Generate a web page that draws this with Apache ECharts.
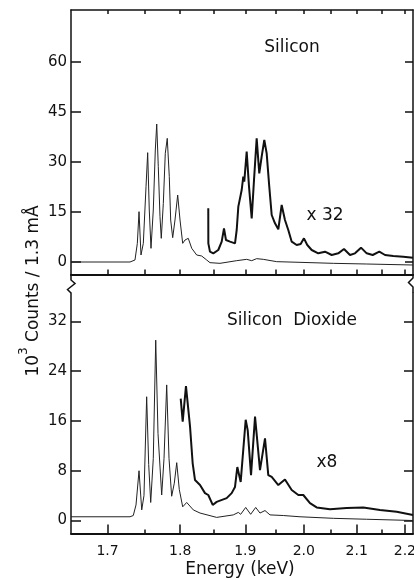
<!DOCTYPE html>
<html>
<head>
<meta charset="utf-8">
<script src="https://cdn.jsdelivr.net/npm/echarts@6/dist/echarts.min.js"></script>
<style>html,body{margin:0;padding:0;background:#fff;}#c{width:414px;height:580px;}</style>
</head>
<body>
<div id="c"></div>
<script>
// ---- data (energy in keV, counts in 10^3 / 1.3 mA) ----
const HC = 12.398; // keV*Angstrom; the energy axis is linear in wavelength
const xMajorEnergies = [1.7, 1.8, 1.9, 2.0, 2.1, 2.2];
const xMinorEnergies = [1.75, 1.85, 1.95, 2.05, 2.15];
const siYTicks = [0, 15, 30, 45, 60];
const sio2YTicks = [0, 8, 16, 24, 32];

const siEnergy = [1.6538, 1.7297, 1.7364, 1.7396, 1.7419, 1.7446, 1.7478, 1.7515, 1.7538, 1.7560, 1.7584, 1.7616, 1.7644, 1.7664, 1.7686, 1.7710, 1.7728, 1.7757, 1.7785, 1.7813, 1.7842, 1.7862, 1.7891, 1.7924, 1.7963, 1.7997, 1.8036, 1.8070, 1.8118, 1.8169, 1.8243, 1.8318, 1.8394, 1.8444, 1.8598, 1.8862, 1.9023, 1.9105, 1.9187, 1.9297, 1.9524, 1.9932, 2.0545, 2.1199, 2.2178];
const siCounts = [0, 0, 0.6, 5.6, 15.1, 2.1, 5.6, 22.6, 32.8, 15.6, 4.1, 15.6, 33.6, 41.4, 28.6, 13.6, 7.1, 17.6, 32.6, 37.1, 25.6, 12.6, 7.3, 12.6, 20.1, 12.6, 5.6, 6.6, 7.1, 4.1, 2.1, 1.8, 0.6, -0.2, -0.4, 0.4, 0.8, 0.4, 1.0, 0.8, 0.1, -0.1, -0.4, -0.6, -0.9];

const siX32Energy = [1.8418, 1.8419, 1.8444, 1.8495, 1.8572, 1.8625, 1.8661, 1.8692, 1.8713, 1.8755, 1.8835, 1.8862, 1.8888, 1.8942, 1.8968, 1.8984, 1.9023, 1.9061, 1.9105, 1.9143, 1.9187, 1.9230, 1.9270, 1.9314, 1.9354, 1.9398, 1.9439, 1.9495, 1.9552, 1.9610, 1.9667, 1.9725, 1.9785, 1.9873, 1.9944, 2.0003, 2.0063, 2.0143, 2.0264, 2.0389, 2.0515, 2.0640, 2.0750, 2.0867, 2.0965, 2.1085, 2.1199, 2.1321, 2.1457, 2.1576, 2.1750, 2.1965, 2.2178];
const siX32Counts = [16.1, 5.6, 3.1, 2.6, 3.6, 6.1, 10.1, 6.6, 7.1, 6.1, 5.6, 9.6, 16.6, 21.6, 25.6, 24.1, 33.1, 22.6, 13.1, 24.6, 37.1, 26.6, 31.6, 36.6, 32.6, 22.6, 14.1, 11.6, 9.8, 17.1, 12.6, 9.6, 6.1, 5.1, 5.4, 7.1, 5.1, 3.6, 2.6, 3.1, 2.1, 2.6, 3.9, 2.1, 2.6, 4.3, 2.6, 2.1, 3.1, 2.1, 1.8, 1.6, 1.3];

const sio2Energy = [1.6538, 1.7297, 1.7341, 1.7378, 1.7419, 1.7456, 1.7487, 1.7524, 1.7552, 1.7580, 1.7616, 1.7650, 1.7682, 1.7734, 1.7767, 1.7805, 1.7838, 1.7876, 1.7914, 1.7949, 1.7986, 1.8036, 1.8095, 1.8193, 1.8293, 1.8547, 1.8808, 1.8888, 1.8926, 1.9007, 1.9088, 1.9171, 1.9242, 1.9326, 1.9410, 1.9638, 1.9932, 2.0545, 2.1199, 2.2178];
const sio2Counts = [0.6, 0.6, 0.8, 2.5, 8.0, 1.7, 4.0, 19.9, 9.0, 2.9, 10.0, 29.0, 14.0, 4.1, 10.0, 21.8, 10.0, 3.9, 6.0, 9.3, 5.0, 2.2, 2.9, 1.7, 1.2, 0.5, 0.9, 1.3, 1.0, 2.1, 1.0, 2.1, 1.2, 1.6, 0.9, 0.8, 0.6, 0.35, 0.2, 0.0];

const sio2X8Energy = [1.8007, 1.8036, 1.8084, 1.8144, 1.8183, 1.8218, 1.8243, 1.8293, 1.8368, 1.8418, 1.8486, 1.8547, 1.8598, 1.8703, 1.8782, 1.8835, 1.8872, 1.8926, 1.9007, 1.9040, 1.9094, 1.9160, 1.9242, 1.9326, 1.9381, 1.9439, 1.9552, 1.9667, 1.9785, 1.9902, 1.9991, 2.0112, 2.0234, 2.0482, 2.0802, 2.1131, 2.1471, 2.1823, 2.2178];
const sio2X8Counts = [19.6, 15.9, 21.6, 15.1, 9.2, 6.5, 6.8, 5.7, 4.4, 4.1, 2.5, 3.0, 3.2, 3.6, 4.4, 5.4, 8.6, 6.2, 16.2, 14.5, 7.3, 16.7, 8.1, 13.2, 7.3, 7.0, 5.7, 6.6, 4.9, 4.1, 4.1, 2.8, 2.1, 1.8, 2.0, 2.1, 1.7, 1.4, 0.9];

const E_MIN = 1.6538, E_MAX = 2.2178;

// ---- build ----
const FONT = 'DejaVu Sans';
const INK = '#111';
const lam = e => HC / e;
const pts = (es, cs) => es.map((e, i) => [lam(e), cs[i]]);
const majorL = xMajorEnergies.map(lam);
const minorL = xMinorEnergies.map(lam);
const allL = majorL.concat(minorL);

function xAx(grid, pos, opts) {
  return Object.assign({
    type: 'value', gridIndex: grid, position: pos, inverse: true,
    min: lam(E_MAX), max: lam(E_MIN),
    splitLine: { show: false },
    axisLine: { show: true, onZero: false, lineStyle: { color: INK, width: 1.5 } },
    axisTick: { show: false },
    axisLabel: { show: false }
  }, opts);
}
function yAx(grid, pos, min, max, ticks, showLabels, tickLen) {
  return {
    type: 'value', gridIndex: grid, position: pos, min: min, max: max,
    splitLine: { show: false },
    axisLine: { show: true, onZero: false, lineStyle: { color: INK, width: 1.5 } },
    axisTick: { show: true, inside: true, length: tickLen, customValues: ticks, lineStyle: { color: INK, width: 1.5 } },
    axisLabel: { show: showLabels, customValues: ticks, margin: 4, color: INK, fontFamily: FONT, fontSize: 15 }
  };
}

const chart = echarts.init(document.getElementById('c'), null, { renderer: 'canvas' });
chart.setOption({
  animation: false,
  backgroundColor: '#fff',
  grid: [
    { left: 71, right: 1, top: 10, height: 264.5, outerBoundsMode: 'none', containLabel: false },
    { left: 71, right: 1, top: 293, height: 240.5, outerBoundsMode: 'none', containLabel: false }
  ],
  xAxis: [
    xAx(0, 'bottom', { axisLine: { show: true, onZero: false, lineStyle: { color: INK, width: 2 } },
      axisTick: { show: true, inside: true, length: 5, customValues: allL, lineStyle: { color: INK, width: 1.5 } } }),
    xAx(0, 'top', { axisTick: { show: true, inside: true, length: 4, customValues: allL, lineStyle: { color: INK, width: 1.5 } } }),
    xAx(1, 'bottom', { axisLine: { show: true, onZero: false, lineStyle: { color: INK, width: 2 } },
      axisTick: { show: true, inside: true, length: 9, customValues: majorL, lineStyle: { color: INK, width: 1.5 } },
      axisLabel: { show: true, customValues: majorL, margin: 11, color: INK, fontFamily: FONT, fontSize: 14,
        hideOverlap: false, formatter: v => (HC / v).toFixed(1) } }),
    xAx(1, 'bottom', { axisLine: { show: false, onZero: false },
      axisTick: { show: true, inside: true, length: 4, customValues: minorL, lineStyle: { color: INK, width: 1.5 } } })
  ],
  yAxis: [
    yAx(0, 'left', -3.75, 75.6, siYTicks, true, 10),
    yAx(0, 'right', -3.75, 75.6, siYTicks, false, 8),
    yAx(1, 'left', -2.09, 36.58, sio2YTicks, true, 10),
    yAx(1, 'right', -2.09, 36.58, sio2YTicks, false, 9)
  ],
  series: [
    { type: 'line', xAxisIndex: 0, yAxisIndex: 0, data: pts(siEnergy, siCounts), showSymbol: false,
      lineStyle: { color: '#222', width: 1 } },
    { type: 'line', xAxisIndex: 0, yAxisIndex: 0, data: pts(siX32Energy, siX32Counts), showSymbol: false,
      lineStyle: { color: INK, width: 2 } },
    { type: 'line', xAxisIndex: 2, yAxisIndex: 2, data: pts(sio2Energy, sio2Counts), showSymbol: false,
      lineStyle: { color: '#222', width: 1 } },
    { type: 'line', xAxisIndex: 2, yAxisIndex: 2, data: pts(sio2X8Energy, sio2X8Counts), showSymbol: false,
      lineStyle: { color: INK, width: 2 } }
  ],
  graphic: [
    { type: 'polyline', shape: { points: [[71, 274], [71, 280], [75, 283.5], [67.5, 289.5], [71, 293]] },
      style: { stroke: INK, lineWidth: 1.5, fill: null } },
    { type: 'polyline', shape: { points: [[413, 274], [413, 278], [408.5, 282.5], [413, 287], [413, 293]] },
      style: { stroke: INK, lineWidth: 1.5, fill: null } },
    { type: 'text', x: 292, y: 48, style: { text: 'Silicon', fill: INK, font: '17px "DejaVu Sans"',
      align: 'center', verticalAlign: 'middle', textAlign: 'center', textVerticalAlign: 'middle' } },
    { type: 'text', x: 325, y: 216, style: { text: 'x 32', fill: INK, font: '17px "DejaVu Sans"',
      align: 'center', verticalAlign: 'middle', textAlign: 'center', textVerticalAlign: 'middle' } },
    { type: 'text', x: 292, y: 321, style: { text: 'Silicon  Dioxide', fill: INK, font: '17px "DejaVu Sans"',
      align: 'center', verticalAlign: 'middle', textAlign: 'center', textVerticalAlign: 'middle' } },
    { type: 'text', x: 327, y: 463, style: { text: 'x8', fill: INK, font: '17px "DejaVu Sans"',
      align: 'center', verticalAlign: 'middle', textAlign: 'center', textVerticalAlign: 'middle' } },
    { type: 'text', x: 240, y: 570, style: { text: 'Energy (keV)', fill: INK, font: '17px "DejaVu Sans"',
      align: 'center', verticalAlign: 'middle', textAlign: 'center', textVerticalAlign: 'middle' } },
    { type: 'text', x: 34, y: 291, rotation: Math.PI / 2,
      style: { text: '{n|10}{s|3}{n| Counts / 1.3 mÅ}', fill: INK,
        align: 'center', verticalAlign: 'middle', textAlign: 'center', textVerticalAlign: 'middle',
        rich: {
          n: { fontSize: 17, fontFamily: FONT, lineHeight: 32, verticalAlign: 'middle', fill: INK },
          s: { fontSize: 12, fontFamily: FONT, lineHeight: 32, verticalAlign: 'top', fill: INK }
        } } }
  ]
});
</script>
</body>
</html>
